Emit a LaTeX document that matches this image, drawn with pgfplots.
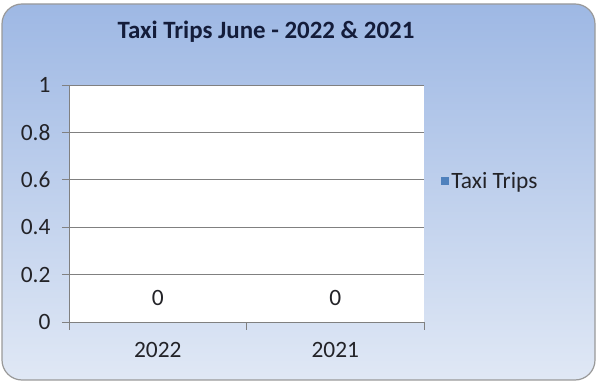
\documentclass[border=0pt]{standalone}
\usepackage{fontspec}
\setmainfont{Carlito}
\usepackage{pgfplots}
\pgfplotsset{compat=1.18}
\definecolor{bgtop}{RGB}{158,184,228}
\definecolor{bgbot}{RGB}{224,232,245}
\definecolor{barblue}{RGB}{79,129,189}
\definecolor{titlecol}{RGB}{20,28,58}
\definecolor{txt}{RGB}{35,35,40}
\definecolor{gridc}{RGB}{128,128,128}
\begin{document}
\begin{tikzpicture}
\useasboundingbox (0bp,0bp) rectangle (597bp,383bp);
\shade[top color=bgtop, bottom color=bgbot, rounded corners=20bp] (2bp,3bp) rectangle (595bp,379bp);
\draw[black!40, line width=1.2bp, rounded corners=20bp] (2bp,3bp) rectangle (595bp,379bp);
\node[font=\fontsize{25}{29}\selectfont\bfseries, text=titlecol] at (266bp,351bp) {Taxi Trips June - 2022 \& 2021};
\begin{axis}[
  at={(69bp,61bp)}, anchor=south west,
  scale only axis, width=355bp, height=237bp,
  xmin=-0.5, xmax=1.5, ymin=0, ymax=1,
  xtick={0,1}, xticklabels={2022,2021},
  minor xtick={-0.5,0.5,1.5},
  ytick={0,0.2,0.4,0.6,0.8,1},
  yticklabels={0,0.2,0.4,0.6,0.8,1},
  axis lines=left,
  axis line style={-, gridc, line width=0.8bp},
  tick align=outside,
  major tick length=7bp, minor tick length=8bp,
  major x tick style={draw=none},
  tick style={gridc, line width=0.8bp},
  ymajorgrids, grid style={gridc, line width=0.8bp},
  axis background/.style={fill=white},
  tick label style={font=\fontsize{23.5}{27}\selectfont, text=txt},
  yticklabel style={xshift=-8bp},
  xticklabel style={yshift=-10bp},
  /pgf/number format/assume math mode=true,
  legend style={at={(1.04,0.593)}, anchor=west, draw=none, fill=none,
    font=\fontsize{23.5}{27}\selectfont, text=txt},
  legend image code/.code={\fill[barblue] (0bp,-4bp) rectangle (8bp,4bp);},
]
\addplot[ybar, bar width=60bp, fill=none, draw=none,
  nodes near coords,
  every node near coord/.append style={anchor=center, yshift=24bp, font=\fontsize{23.5}{27}\selectfont, text=txt}]
  coordinates {(0,0) (1,0)};
\addlegendentry{Taxi Trips}
\end{axis}
\end{tikzpicture}
\end{document}
